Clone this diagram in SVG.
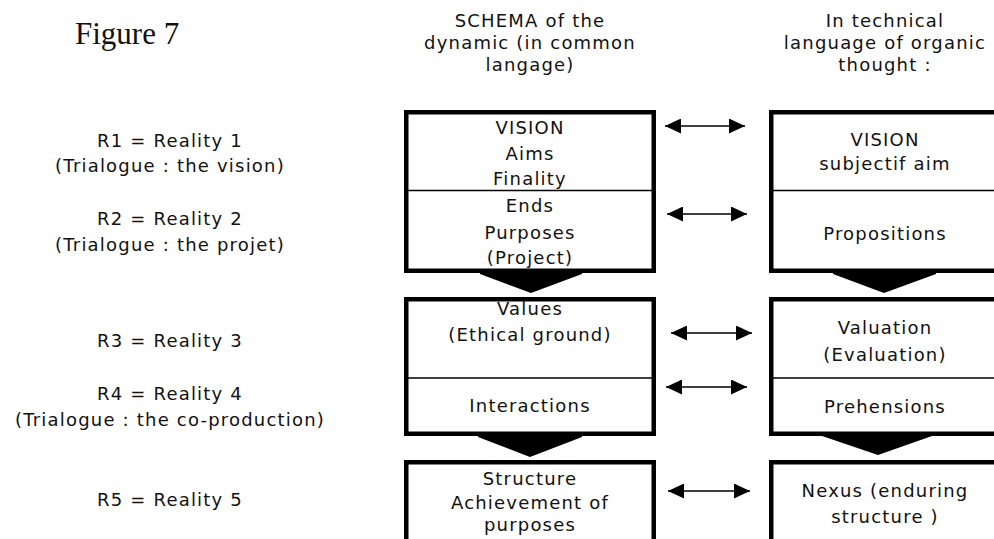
<svg xmlns="http://www.w3.org/2000/svg" width="994" height="539" viewBox="0 0 994 539">
  <style>
    .t { font-family: "DejaVu Sans", Verdana, sans-serif; font-size: 18px; letter-spacing: 1.2px; text-anchor: middle; fill: #111; }
    .fig { font-family: "Liberation Serif", "Times New Roman", serif; font-size: 31px; fill: #111; }
    .box { fill: #fff; stroke: #000; stroke-width: 4.5; }
    .div { stroke: #000; stroke-width: 1.6; }
    .chev { fill: #000; }
    .link { stroke: #000; stroke-width: 1.5; fill: none; marker-start: url(#ah); marker-end: url(#ah); }
  </style>
  <defs>
    <marker id="ah" viewBox="0 0 16 15" refX="16" refY="7.5" markerUnits="userSpaceOnUse" markerWidth="16" markerHeight="15" orient="auto-start-reverse">
      <path d="M0,0 L16,7.5 L0,15 z" fill="#000"/>
    </marker>
  </defs>
  <rect width="994" height="539" fill="#fff"/>

  <g id="title">
    <text class="fig" x="75" y="44">Figure 7</text>
  </g>

  <g id="header-left">
    <text class="t" x="530" y="27">SCHEMA of the</text>
    <text class="t" x="530" y="49">dynamic (in common</text>
    <text class="t" x="530" y="71">langage)</text>
  </g>
  <g id="header-right">
    <text class="t" x="885" y="27">In technical</text>
    <text class="t" x="885" y="49">language of organic</text>
    <text class="t" x="885" y="71">thought :</text>
  </g>

  <g id="labels">
    <text class="t" x="170" y="147">R1 = Reality 1</text>
    <text class="t" x="170" y="172">(Trialogue : the vision)</text>
    <text class="t" x="170" y="225">R2 = Reality 2</text>
    <text class="t" x="170" y="251">(Trialogue : the projet)</text>
    <text class="t" x="170" y="347">R3 = Reality 3</text>
    <text class="t" x="170" y="400">R4 = Reality 4</text>
    <text class="t" x="170" y="426">(Trialogue : the co-production)</text>
    <text class="t" x="170" y="506">R5 = Reality 5</text>
  </g>

  <g id="left-box-1">
    <rect class="box" x="406.25" y="112.25" width="247.5" height="158.5"/>
    <line class="div" x1="406" y1="190.5" x2="654" y2="190.5"/>
    <text class="t" x="530" y="134">VISION</text>
    <text class="t" x="530" y="160">Aims</text>
    <text class="t" x="530" y="185">Finality</text>
    <text class="t" x="530" y="212">Ends</text>
    <text class="t" x="530" y="239">Purposes</text>
    <text class="t" x="530" y="264">(Project)</text>
  </g>
  <g id="left-box-2">
    <rect class="box" x="406.25" y="299.25" width="247.5" height="134.5"/>
    <line class="div" x1="406" y1="378" x2="654" y2="378"/>
    <text class="t" x="530" y="315">Values</text>
    <text class="t" x="530" y="341">(Ethical ground)</text>
    <text class="t" x="530" y="412">Interactions</text>
  </g>
  <g id="left-box-3">
    <rect class="box" x="406.25" y="462.25" width="247.5" height="100"/>
    <text class="t" x="530" y="485">Structure</text>
    <text class="t" x="530" y="509">Achievement of</text>
    <text class="t" x="530" y="531">purposes</text>
  </g>

  <g id="right-box-1">
    <rect class="box" x="771.25" y="112.25" width="240" height="158.5"/>
    <line class="div" x1="771" y1="190.5" x2="994" y2="190.5"/>
    <text class="t" x="885" y="146">VISION</text>
    <text class="t" x="885" y="170">subjectif aim</text>
    <text class="t" x="885" y="240">Propositions</text>
  </g>
  <g id="right-box-2">
    <rect class="box" x="771.25" y="299.25" width="240" height="134.5"/>
    <line class="div" x1="771" y1="378" x2="994" y2="378"/>
    <text class="t" x="885" y="334">Valuation</text>
    <text class="t" x="885" y="361">(Evaluation)</text>
    <text class="t" x="885" y="413">Prehensions</text>
  </g>
  <g id="right-box-3">
    <rect class="box" x="771.25" y="462.25" width="240" height="100"/>
    <text class="t" x="885" y="497">Nexus (enduring</text>
    <text class="t" x="885" y="523">structure )</text>
  </g>

  <g id="connectors">
    <polygon class="chev" points="480,271 582,271 582,274 531,293 480,274"/>
    <polygon class="chev" points="478,434 582,434 582,437 530,457 478,437"/>
    <polygon class="chev" points="833,271 936,271 936,274 884,293 833,274"/>
    <polygon class="chev" points="822,433 932,433 932,436 878,455 822,436"/>
    <line class="link" x1="665" y1="126" x2="745" y2="126"/>
    <line class="link" x1="667" y1="214" x2="747" y2="214"/>
    <line class="link" x1="671" y1="333" x2="752" y2="333"/>
    <line class="link" x1="666" y1="387" x2="747" y2="387"/>
    <line class="link" x1="668" y1="491" x2="750" y2="491"/>
  </g>
</svg>
